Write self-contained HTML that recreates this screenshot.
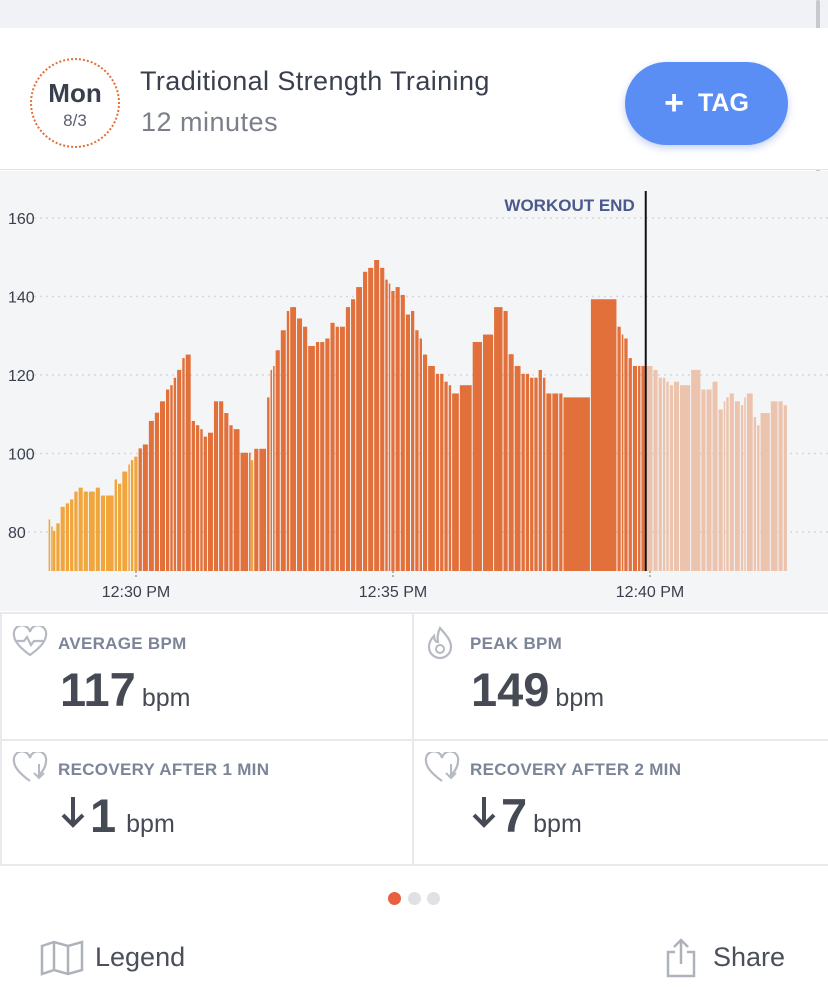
<!DOCTYPE html>
<html><head><meta charset="utf-8">
<style>
*{margin:0;padding:0;box-sizing:border-box}
body{width:828px;height:997px;overflow:hidden;background:#fff;font-family:"Liberation Sans",sans-serif;position:relative}
.abs{position:absolute}
.lbl{position:absolute;font-size:17px;font-weight:bold;color:#7c8597;letter-spacing:0.3px}
.big{position:absolute;font-size:47px;font-weight:bold;color:#454a54;white-space:nowrap}
.big span{font-size:25px;font-weight:normal;margin-left:6px}
</style></head><body>
<div class="abs" style="left:0;top:0;width:828px;height:28px;background:#f1f2f5"></div>
<div class="abs" style="left:816px;top:0;width:4px;height:200px;background:#c8c9cc;border-radius:2px"></div>
<div class="abs" style="left:0;top:28px;width:828px;height:142px;background:#fff;border-bottom:1px solid #e3e4e8"></div>
<div class="abs" style="left:30px;top:58px;width:90px;height:90px;border-radius:50%;border:2px dotted #e2703a;text-align:center">
 <div style="font-size:26px;font-weight:bold;color:#3a3f4d;margin-top:18px">Mon</div>
 <div style="font-size:17px;color:#5a5f6b;margin-top:2px">8/3</div>
</div>
<div class="abs" style="left:140px;top:66px;font-size:27px;letter-spacing:0.4px;color:#3a3f4d">Traditional Strength Training</div>
<div class="abs" style="left:141px;top:107px;font-size:27px;letter-spacing:0.5px;color:#7a7f8a">12 minutes</div>
<div class="abs" style="left:625px;top:62px;width:163px;height:83px;border-radius:42px;background:#5b8ef5;color:#fff;font-size:25px;font-weight:bold;line-height:83px;text-align:center;box-shadow:0 3px 8px rgba(60,100,200,0.3)"><span style="font-size:34px;vertical-align:-3px;margin-right:14px">+</span>TAG</div>

<svg class="abs" style="left:0;top:171px" width="828" height="440" id="chart"></svg>

<div class="abs" style="left:0;top:612px;width:828px;height:254px;border-top:2px solid #e8e9ec;border-bottom:2px solid #e8e9ec"></div>
<div class="abs" style="left:412px;top:612px;width:2px;height:254px;background:#e8e9ec"></div>
<div class="abs" style="left:0;top:739px;width:828px;height:2px;background:#e8e9ec"></div>
<div class="abs" style="left:0;top:612px;width:2px;height:254px;background:#e8e9ec"></div>

<svg class="abs" style="left:12px;top:626px" width="36" height="32" viewBox="0 0 36 32"><path d="M18 29 C4 19 2 13 2 9 A7.5 7.5 0 0 1 18 6 A7.5 7.5 0 0 1 34 9 C34 13 32 19 18 29Z M4 15 H12 L15 11 L19 19 L22 15 H32" fill="none" stroke="#b5b9c2" stroke-width="2.2"/></svg>
<div class="lbl" style="left:58px;top:634px">AVERAGE BPM</div>
<div class="big" style="left:60px;top:662px">117<span>bpm</span></div>

<svg class="abs" style="left:426px;top:626px" width="28" height="34" viewBox="0 0 28 34"><path d="M14 2 C20 9 25 14 25 21 A11 11 0 0 1 3 21 C3 16 6 12 8 10 C8 14 10 16 12 16 C11 10 12 6 14 2Z" fill="none" stroke="#b5b9c2" stroke-width="2.2"/><circle cx="14" cy="23" r="4" fill="none" stroke="#b5b9c2" stroke-width="2"/></svg>
<div class="lbl" style="left:470px;top:634px">PEAK BPM</div>
<div class="big" style="left:471px;top:662px">149<span>bpm</span></div>

<svg class="abs" style="left:12px;top:752px" width="36" height="32" viewBox="0 0 36 32"><path d="M18 29 C4 19 2 13 2 9 A7.5 7.5 0 0 1 18 6 A7.5 7.5 0 0 1 34 9 C34 13 32 19 25 25" fill="none" stroke="#b5b9c2" stroke-width="2.2"/><path d="M27 12 V26 M22 21 L27 26 L32 21" fill="none" stroke="#b5b9c2" stroke-width="2"/></svg>
<div class="lbl" style="left:58px;top:760px">RECOVERY AFTER 1 MIN</div>
<svg class="abs" style="left:60px;top:795px" width="26" height="34" viewBox="0 0 26 34"><path d="M13 2 V30 M3 20 L13 30 L23 20" fill="none" stroke="#454a54" stroke-width="4"/></svg>
<div class="big" style="left:90px;top:788px">1<span style="margin-left:10px">bpm</span></div>

<svg class="abs" style="left:424px;top:752px" width="36" height="32" viewBox="0 0 36 32"><path d="M18 29 C4 19 2 13 2 9 A7.5 7.5 0 0 1 18 6 A7.5 7.5 0 0 1 34 9 C34 13 32 19 25 25" fill="none" stroke="#b5b9c2" stroke-width="2.2"/><path d="M27 12 V26 M22 21 L27 26 L32 21" fill="none" stroke="#b5b9c2" stroke-width="2"/></svg>
<div class="lbl" style="left:470px;top:760px">RECOVERY AFTER 2 MIN</div>
<svg class="abs" style="left:471px;top:795px" width="26" height="34" viewBox="0 0 26 34"><path d="M13 2 V30 M3 20 L13 30 L23 20" fill="none" stroke="#454a54" stroke-width="4"/></svg>
<div class="big" style="left:501px;top:788px">7<span>bpm</span></div>

<div class="abs" style="left:388px;top:892px;width:13px;height:13px;border-radius:50%;background:#e8603e"></div>
<div class="abs" style="left:408px;top:892px;width:13px;height:13px;border-radius:50%;background:#e0e1e4"></div>
<div class="abs" style="left:427px;top:892px;width:13px;height:13px;border-radius:50%;background:#e0e1e4"></div>

<svg class="abs" style="left:40px;top:940px" width="44" height="36" viewBox="0 0 44 36"><path d="M2 6 L14 2 L28 6 L42 2 V30 L28 34 L14 30 L2 34Z M14 2 V30 M28 6 V34" fill="none" stroke="#aeb2bb" stroke-width="2.5"/></svg>
<div class="abs" style="left:95px;top:942px;font-size:27px;color:#4a4f5a">Legend</div>
<svg class="abs" style="left:664px;top:938px" width="34" height="40" viewBox="0 0 34 40"><path d="M11 14 H4 V38 H30 V14 H23 M17 26 V2 M10 9 L17 2 L24 9" fill="none" stroke="#aeb2bb" stroke-width="2.5"/></svg>
<div class="abs" style="left:713px;top:942px;font-size:27px;color:#4a4f5a">Share</div>

<script>
// bar start times (seconds after 12:28:00) and heart-rate values
const startTimes=[18,21,23,27,32,38,43,48,53,59,65,73,79,85,95,99,104,111,114,118,123,128,135,142,148,155,160,164,168,174,178,185,190,195,199,204,211,217,223,229,234,242,252,254,258,264,273,277,280,283,289,296,300,308,315,321,330,335,341,347,353,358,365,371,377,385,391,398,405,411,415,418,423,429,435,441,446,451,455,461,470,475,480,485,489,498,513,525,538,549,555,562,570,575,580,585,590,595,599,606,614,619,651,682,687,690,695,700,706,710,715,724,730,735,739,743,748,755,768,780,786,793,800,806,809,813,819,826,830,833,841,845,849,861,870,876];
const bpmValues=[83.2,81.4,80.3,82.2,86.4,87.3,88.3,90.3,91.3,90.3,90.3,91.3,89.3,89.3,93.4,92.3,95.4,97.2,98.3,99.2,101.3,102.3,108.3,110.4,113.3,116.3,117.4,119.3,121.3,124.3,125.2,108.3,107.2,106.2,104.3,105.3,113.3,113.3,110.3,107.2,106.2,100.2,100.2,98.3,101.2,101.2,114.3,121.3,122.3,126.3,131.4,136.3,137.3,134.4,132.3,127.4,128.4,128.4,129.3,133.3,132.3,132.3,137.3,139.3,142.4,146.3,147.3,149.3,147.3,144.3,143.3,141.4,142.4,140.4,135.4,136.3,131.4,129.3,125.2,122.3,120.3,120.3,118.3,117.4,115.3,117.4,128.4,130.3,137.3,136.3,125.3,122.3,120.3,120.3,119.3,119.3,121.3,119.3,115.3,115.3,115.3,114.3,139.3,132.3,130.3,129.3,124.3,122.3,122.3,122.3,122.3,121.3,119.3,119.3,118.3,117.4,118.3,117.4,121.3,116.3,116.3,118.3,111.2,113.3,114.3,115.3,113.3,112.3,114.3,115.3,109.3,107.2,110.3,113.3,113.3,112.3];
const endTime=881;
const workoutEnd=715;
const yTicks=[80,100,120,140,160];
const xTickTimes=[120,420,720];
const xTickLabels=["12:30 PM","12:35 PM","12:40 PM"];

const svg=document.getElementById('chart');
const NS='http://www.w3.org/2000/svg';
const OY=171;
const xs=t=>136+(t-120)*0.8567;
const ys=v=>532-OY-(v-80)*3.925;
const base=571-OY;
function mk(tag,attrs){const e=document.createElementNS(NS,tag);for(const k in attrs)e.setAttribute(k,attrs[k]);svg.appendChild(e);return e;}
const bg=mk('rect',{x:0,y:0,width:828,height:440,fill:'#f4f5f7'});


yTicks.forEach(v=>{
 const l=mk('line',{x1:10,x2:828,y1:ys(v),y2:ys(v),stroke:'#d5d7dc','stroke-width':1.5,'stroke-dasharray':'2,4'});
 
 
 const t=mk('text',{x:8,y:ys(v)+6,'font-size':16,fill:'#3a3f4d','font-family':'Liberation Sans'});
 t.textContent=v;
 
 
});
for(let i=0;i<startTimes.length;i++){
 const t0=startTimes[i],t1=i+1<startTimes.length?startTimes[i+1]:endTime,v=bpmValues[i];
 const x0=xs(t0),x1=xs(t1);
 let col=v<100?'#f0a63c':'#e2703a';
 if(t0>=workoutEnd)col='#ecc3ad';
 const r=mk('rect',{x:x0,y:ys(v),width:Math.max(1.5,x1-x0-1),height:base-ys(v),fill:col});
 
 
}
xTickTimes.forEach((t,i)=>{
 const m=mk('line',{x1:xs(t),x2:xs(t),y1:base,y2:base+6,stroke:'#b0b3b9','stroke-width':2,'stroke-dasharray':'2,2'});
 
 
 const tx=mk('text',{x:xs(t),y:base+26,'font-size':16,fill:'#3a3f4d','text-anchor':'middle','font-family':'Liberation Sans'});
 tx.textContent=xTickLabels[i];
 
 
});
const we=mk('line',{x1:xs(workoutEnd),x2:xs(workoutEnd),y1:20,y2:base,stroke:'#111',"stroke-width":2});


const wt=mk('text',{x:xs(workoutEnd)-11,y:40,'font-size':17,'font-weight':'bold',fill:'#4b5a8c','text-anchor':'end','font-family':'Liberation Sans'});
wt.textContent='WORKOUT END';


</script>
</body></html>
